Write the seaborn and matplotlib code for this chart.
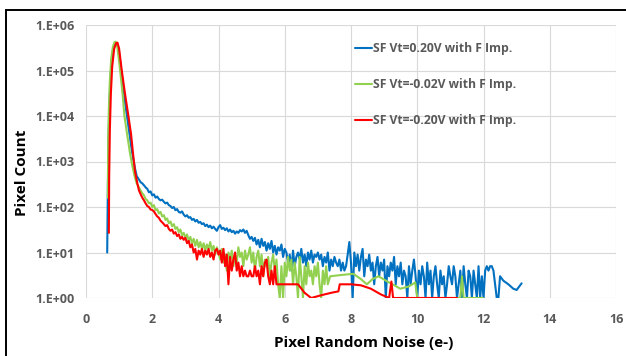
import numpy as np
import pandas as pd
import seaborn as sns
import matplotlib.pyplot as plt
from matplotlib.patches import Rectangle

# ---------------------------------------------------------------
# Datos (histograma de ruido por pixel)
# ---------------------------------------------------------------
LABELS = ["SF Vt=0.20V with F Imp.", "SF Vt=-0.02V with F Imp.", "SF Vt=-0.20V with F Imp."]
COLORS = ["#0070C0", "#92D050", "#FF0000"]

# Vt = 0.20V (azul)
blue_x = [0.64, 0.66, 0.68, 0.70, 0.73, 0.77, 0.82, 0.87, 0.93, 0.98, 1.03, 1.08, 1.13, 1.18, 1.23, 1.28,
          1.33, 1.38, 1.43, 1.48, 1.53, 1.58,
          1.60, 1.65, 1.70, 1.75, 1.80, 1.85, 1.90, 1.95, 2.00, 2.05, 2.10, 2.15, 2.20, 2.25, 2.30, 2.35,
          2.40, 2.45, 2.50, 2.55, 2.60, 2.65, 2.70, 2.75, 2.80, 2.85, 2.90, 2.95, 3.00, 3.05, 3.10, 3.15,
          3.20, 3.25, 3.30, 3.35, 3.40, 3.45, 3.50, 3.55, 3.60, 3.65, 3.70, 3.75, 3.80, 3.85, 3.90, 3.95,
          4.00, 4.05, 4.10, 4.15, 4.20, 4.25, 4.30, 4.35, 4.40, 4.45, 4.50, 4.55, 4.60, 4.65, 4.70, 4.75,
          4.80, 4.85, 4.90, 4.95, 5.00, 5.05, 5.10, 5.15, 5.20, 5.25, 5.30, 5.35, 5.40, 5.45, 5.50, 5.55,
          5.60, 5.65, 5.70, 5.75, 5.80, 5.85, 5.90, 5.95, 6.00, 6.05, 6.10, 6.15, 6.20, 6.25, 6.30, 6.35,
          6.40, 6.45, 6.50, 6.55, 6.60, 6.65, 6.70, 6.75, 6.80, 6.85, 6.90, 6.95, 7.00, 7.05, 7.10, 7.15,
          7.20, 7.25, 7.30, 7.35, 7.40, 7.45, 7.50, 7.55, 7.60, 7.65, 7.70, 7.75, 7.80, 7.85, 7.90, 7.95,
          8.00, 8.05, 8.10, 8.15, 8.20, 8.25, 8.30, 8.35, 8.40, 8.45, 8.50, 8.55, 8.60, 8.65, 8.70, 8.75,
          8.80, 8.85, 8.90, 8.95, 9.00, 9.05, 9.10, 9.15, 9.20, 9.25, 9.30, 9.35, 9.40, 9.45, 9.50, 9.55,
          9.60, 9.65, 9.70, 9.75, 9.80, 9.85, 9.90, 9.95, 10.00, 10.05, 10.10, 10.15, 10.20, 10.25, 10.30,
          10.35, 10.40, 10.45, 10.50, 10.55, 10.60, 10.65, 10.70, 10.75, 10.80, 10.85, 10.90, 10.95, 11.00,
          11.05, 11.10, 11.15, 11.20, 11.25, 11.30, 11.35, 11.40, 11.45, 11.50, 11.55, 11.60, 11.65, 11.70,
          11.75, 11.80, 11.85, 11.90, 11.95, 12.00, 12.05, 12.10, 12.15, 12.20, 12.25, 12.30, 12.35, 12.40,
          12.45, 12.50, 12.60, 12.75, 12.90, 13.00, 13.15]
blue_y = [10, 300, 3000, 12000, 50000, 150000, 300000, 380000, 400000, 320000, 160000, 80000, 40000, 20000, 11000, 6000,
          3200, 1800, 1100, 700, 480, 420,
          400, 350, 330, 300, 270, 250, 210, 220, 180, 190, 160, 170, 150, 140, 145, 130,
          120, 125, 110, 105, 95, 100, 85, 90, 78, 75, 80, 68, 62, 66, 58, 60,
          52, 55, 48, 52, 45, 47, 42, 44, 38, 41, 36, 39, 34, 37, 33, 30,
          36, 40, 33, 35, 31, 34, 29, 32, 28, 30, 26, 29, 27, 31, 29, 32,
          27, 30, 24, 20, 22, 18, 21, 15, 19, 13, 20, 14, 17, 11, 16, 12,
          18, 10, 14, 9, 13, 11, 15, 8, 12, 10, 6, 9, 4, 11, 5, 8,
          10, 7, 12, 6, 9, 5, 10, 7, 11, 6, 9, 8, 10, 7, 9, 5,
          8, 6, 10, 4, 7, 5, 8, 6, 5, 7, 4, 6, 4, 5, 9, 17,
          6, 1, 10, 5, 9, 4, 8, 12, 3, 7, 5, 9, 4, 6, 2, 5,
          8, 3, 6, 4, 7, 1, 5, 3, 6, 4, 8, 2, 5, 3, 6, 2,
          4, 3, 1, 5, 2, 4, 7, 3, 1, 4, 2, 5, 3, 1, 6,
          2, 4, 1, 3, 5, 2, 1, 4, 2, 3, 1, 2, 5, 3,
          2, 5, 3, 1, 2, 4, 1, 5, 2, 1, 4, 3, 1, 4,
          2, 1, 5, 1, 3, 1, 4, 5, 4, 5, 5, 4, 2, 1,
          1, 3, 2.4, 2.0, 1.6, 1.5, 2.1]

# Vt = -0.02V (verde)
green_x = [0.66, 0.67, 0.69, 0.72, 0.76, 0.81, 0.86, 0.89, 0.93, 0.97, 1.03, 1.10, 1.16, 1.24, 1.33, 1.40, 1.46, 1.53,
           1.60, 1.65, 1.70, 1.75, 1.80, 1.85, 1.90, 1.95, 2.00, 2.05, 2.10, 2.15, 2.20, 2.25, 2.30, 2.35,
           2.40, 2.45, 2.50, 2.55, 2.60, 2.65, 2.70, 2.75, 2.80, 2.85, 2.90, 2.95, 3.00, 3.05, 3.10, 3.15,
           3.20, 3.25, 3.30, 3.35, 3.40, 3.45, 3.50, 3.55, 3.60, 3.65, 3.70, 3.75, 3.80, 3.85, 3.90, 3.95,
           4.00, 4.05, 4.10, 4.15, 4.20, 4.25, 4.30, 4.35, 4.40, 4.45, 4.50, 4.55, 4.60, 4.65, 4.70, 4.75,
           4.80, 4.85, 4.90, 4.95, 5.00, 5.05, 5.10, 5.15, 5.20, 5.25, 5.30, 5.35, 5.40, 5.45, 5.50, 5.55,
           5.60, 5.65, 5.70, 5.75, 5.80, 5.85, 5.90, 5.95, 6.00, 6.05, 6.10, 6.15, 6.20, 6.25, 6.30, 6.35,
           6.40, 6.45, 6.50, 6.55, 6.60, 6.65, 6.70, 6.75, 6.80, 6.85, 6.90, 6.95, 7.00, 7.05, 7.10, 7.15,
           7.20, 7.25, 7.30, 7.37, 7.70, 8.07, 8.30, 8.48, 8.65, 8.83, 9.10, 9.49, 9.75, 9.94, 10.00,
           10.50, 11.00, 11.30, 11.35, 11.40, 11.98]
green_y = [160, 3000, 15000, 60000, 180000, 330000, 420000, 430000, 380000, 240000, 100000, 33000, 10000, 4000, 1500, 800, 500, 330,
           270, 230, 200, 180, 150, 140, 120, 125, 100, 110, 85, 90, 72, 78, 62, 66,
           52, 56, 44, 48, 38, 42, 33, 36, 28, 32, 24, 27, 21, 25, 18, 22,
           16, 20, 14, 19, 13, 17, 12, 16, 11, 15, 12, 17, 11, 14, 9, 13,
           10, 7, 12, 6, 9, 4, 10, 7, 11, 5, 9, 6, 13, 8, 10, 5,
           11, 7, 9, 13, 6, 10, 4, 8, 11, 5, 9, 3, 7, 5, 8, 3,
           6, 9, 4, 7, 2, 1, 5, 1, 6, 3, 8, 4, 7, 2, 6, 3,
           1, 8, 3, 1, 5, 2, 6, 3, 4, 2, 5, 3, 6, 2, 1, 4,
           2, 5, 2, 3, 3.2, 3.4, 2.6, 2.0, 2.6, 3.0, 2.3, 1.6, 1.8, 2.2, 1,
           1, 1, 1, 3, 1, 1]

# Vt = -0.20V (rojo)
red_x = [0.69, 0.70, 0.72, 0.75, 0.79, 0.85, 0.91, 0.95, 1.00, 1.08, 1.18, 1.28, 1.36, 1.42, 1.48, 1.55,
         1.60, 1.65, 1.70, 1.75, 1.80, 1.85, 1.90, 1.95, 2.00, 2.05, 2.10, 2.15, 2.20, 2.25, 2.30, 2.35,
         2.40, 2.45, 2.50, 2.55, 2.60, 2.65, 2.70, 2.75, 2.80, 2.85, 2.90, 2.95, 3.00, 3.05, 3.10, 3.15,
         3.20, 3.25, 3.30, 3.35, 3.40, 3.45, 3.50, 3.55, 3.60, 3.65, 3.70, 3.75, 3.80, 3.85, 3.90, 3.95,
         4.00, 4.05, 4.10, 4.15, 4.20, 4.25, 4.30, 4.35, 4.40, 4.45, 4.50, 4.55, 4.60, 4.65, 4.70, 4.75,
         4.80, 4.85, 4.90, 4.95, 5.00, 5.05, 5.10, 5.15, 5.20, 5.25, 5.30, 5.35, 5.40, 5.45, 5.50, 5.55,
         5.60, 5.65, 5.70, 5.75, 5.80, 6.10, 6.40, 6.60, 6.80, 7.10, 7.40, 7.62, 7.66, 8.00, 8.30, 8.60,
         8.90, 9.15, 9.22, 9.27, 10.00, 11.20]
red_y = [27, 500, 5000, 30000, 120000, 300000, 400000, 410000, 300000, 100000, 30000, 10000, 4000, 1500, 600, 330,
         230, 190, 160, 140, 120, 105, 100, 88, 86, 80, 70, 62, 58, 50, 46, 42,
         38, 40, 33, 30, 32, 26, 28, 23, 25, 20, 22, 19, 21, 16, 18, 13,
         15, 10, 12, 7, 11, 9, 12, 8, 11, 9, 12, 8, 10, 7, 11, 12,
         9, 11, 6, 12, 5, 9, 2, 8, 4, 7, 10, 4, 6, 3, 5, 3,
         4, 3, 3, 4, 3, 3, 5, 3, 4, 2, 5, 3, 6, 7, 3, 2,
         4, 2, 5, 2, 2, 2, 2, 1.3, 1.0, 1.15, 1.3, 1.4, 2, 2, 1.9, 1.6,
         1.2, 1.0, 2.3, 1, 1, 1]

X_TICKS = [0, 2, 4, 6, 8, 10, 12, 14, 16]
Y_TICKS = [1e0, 1e1, 1e2, 1e3, 1e4, 1e5, 1e6]
Y_TICK_LABELS = ["1.E+00", "1.E+01", "1.E+02", "1.E+03", "1.E+04", "1.E+05", "1.E+06"]

# ---------------------------------------------------------------
# Tabla larga para seaborn
# ---------------------------------------------------------------
df = pd.concat([
    pd.DataFrame({"x": blue_x, "y": blue_y, "serie": LABELS[0]}),
    pd.DataFrame({"x": green_x, "y": green_y, "serie": LABELS[1]}),
    pd.DataFrame({"x": red_x, "y": red_y, "serie": LABELS[2]}),
], ignore_index=True)

sns.set_style("white")
plt.rcParams["font.family"] = ["Open Sans", "DejaVu Sans"]

fig = plt.figure(figsize=(6.26, 3.56), dpi=100)
ax = fig.add_axes([86 / 626, 1 - 298 / 356, 530 / 626, 273 / 356])

sns.lineplot(data=df, x="x", y="y", hue="serie", palette=COLORS, hue_order=LABELS,
             estimator=None, sort=False, linewidth=1.5, ax=ax)

ax.set_yscale("log")
ax.set_xlim(0, 16)
ax.set_ylim(1, 1e6)
ax.set_xticks(X_TICKS)
ax.set_yticks(Y_TICKS)
ax.set_yticklabels(Y_TICK_LABELS)
ax.minorticks_off()
ax.grid(True, color="#D9D9D9", linewidth=0.8)
for s in ax.spines.values():
    s.set_visible(False)
ax.tick_params(axis="both", length=0, labelsize=9, labelcolor="#595959")
ax.tick_params(axis="y", pad=8)
ax.tick_params(axis="x", pad=11)
for t in ax.get_xticklabels() + ax.get_yticklabels():
    t.set_fontweight("bold")

ax.set_xlabel("Pixel Random Noise (e-)", fontsize=11, fontweight="bold", color="black")
ax.set_ylabel("Pixel Count", fontsize=11, fontweight="bold", color="black")
ax.xaxis.set_label_coords(0.5245, -0.139)
ax.yaxis.set_label_coords(-0.108, 0.46)

leg = ax.legend(loc="upper left", bbox_to_anchor=(0.5075, 0.938), frameon=False,
                fontsize=8.7, handlelength=1.4, handletextpad=0.1, labelspacing=1.9,
                borderpad=0, borderaxespad=0)
for t in leg.get_texts():
    t.set_fontweight("bold")
    t.set_color("#595959")

# marco exterior
fig.patches.append(Rectangle((6 / 626, -0.1), 1.2, 1 - 10 / 356 + 0.1, transform=fig.transFigure,
                             fill=False, edgecolor="black", linewidth=1.4, clip_on=False))

fig.savefig("out.png", dpi=100)
